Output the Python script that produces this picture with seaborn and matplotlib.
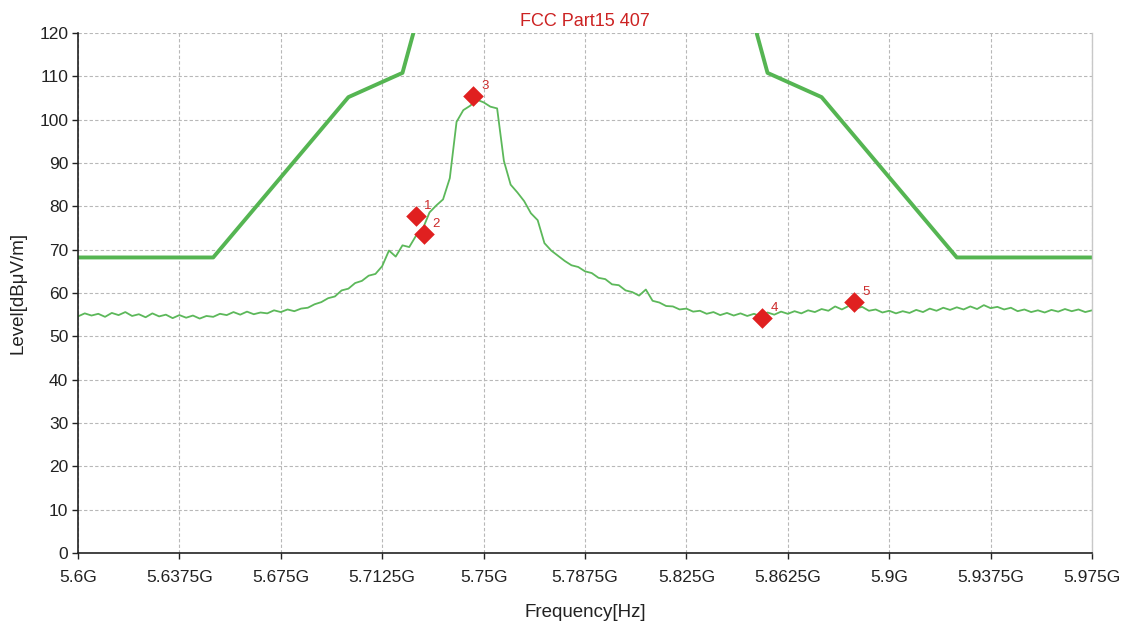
import numpy as np
import pandas as pd
import matplotlib
matplotlib.use("Agg")
import matplotlib.pyplot as plt
from matplotlib.ticker import FixedLocator, FuncFormatter
import seaborn as sns

# Measured emission sweep, 5.6 GHz to 5.975 GHz, 2.5 MHz steps (dBuV/m)
sweep_start = 5.6
sweep_stop = 5.975
level = [
    54.6, 55.3, 54.8, 55.2, 54.5, 55.4, 54.9, 55.6, 54.7, 55.1,
    54.4, 55.3, 54.6, 55.0, 54.2, 54.9, 54.3, 54.8, 54.1, 54.7,
    54.5, 55.2, 54.9, 55.6, 55.0, 55.7, 55.1, 55.5, 55.3, 56.0,
    55.6, 56.2, 55.8, 56.4, 56.6, 57.4, 57.9, 58.8, 59.2, 60.6,
    61.0, 62.3, 62.8, 64.0, 64.4, 66.2, 69.8, 68.4, 71.0, 70.6,
    73.2, 74.8, 78.6, 80.2, 81.6, 86.5, 99.5, 102.2, 103.2, 104.6,
    104.0, 103.0, 102.6, 90.5, 85.0, 83.2, 81.2, 78.4, 76.8, 71.5,
    69.8, 68.6, 67.4, 66.4, 66.0, 65.0, 64.6, 63.5, 63.2, 62.0,
    61.8, 60.6, 60.2, 59.4, 60.8, 58.2, 57.8, 57.0, 56.9, 56.2,
    56.4, 55.7, 55.9, 55.2, 55.6, 54.9, 55.4, 54.8, 55.3, 54.7,
    55.2, 54.6, 55.5, 55.0, 55.7, 55.2, 55.8, 55.3, 56.0, 55.6,
    56.3, 55.9, 56.9, 56.2, 57.0, 56.4, 56.8, 55.9, 56.2, 55.5,
    55.9, 55.3, 55.8, 55.4, 56.1, 55.6, 56.4, 55.9, 56.6, 56.1,
    56.7, 56.2, 56.9, 56.3, 57.2, 56.5, 56.8, 56.2, 56.6, 55.8,
    56.2, 55.6, 56.0, 55.5, 56.1, 55.7, 56.3, 55.8, 56.2, 55.6,
    56.0,
]

# FCC Part 15.407 limit mask (GHz, dBuV/m)
limit_freq = [5.6, 5.65, 5.7, 5.72, 5.725, 5.85, 5.855, 5.875, 5.925, 5.975]
limit_level = [68.2, 68.2, 105.2, 110.8, 122.2, 122.2, 110.8, 105.2, 68.2, 68.2]

# Marker readings
marker_id = ["1", "2", "3", "4", "5"]
marker_freq = [5.725, 5.728, 5.746, 5.853, 5.887]
marker_level = [77.8, 73.6, 105.5, 54.2, 57.9]

x_ticks = [5.6, 5.6375, 5.675, 5.7125, 5.75, 5.7875, 5.825, 5.8625, 5.9, 5.9375, 5.975]
y_ticks = list(range(0, 121, 10))

sns.set_theme(style="white")
plt.rcParams["font.family"] = ["Liberation Sans Narrow", "Liberation Sans", "DejaVu Sans"]

sweep = pd.DataFrame({
    "freq": np.linspace(sweep_start, sweep_stop, len(level)),
    "level": level,
})
mask = pd.DataFrame({"freq": limit_freq, "level": limit_level})
markers = pd.DataFrame({"id": marker_id, "freq": marker_freq, "level": marker_level})

fig = plt.figure(figsize=(11.26, 6.30), dpi=100)
ax = fig.add_axes([78 / 1126, 77 / 630, 1014 / 1126, 520 / 630])

green = "#5cb85a"
red = "#e02020"

sns.lineplot(data=mask, x="freq", y="level", ax=ax, color="#55b552",
             linewidth=2.8, sort=False, estimator=None)
sns.lineplot(data=sweep, x="freq", y="level", ax=ax, color=green,
             linewidth=1.3, sort=False, estimator=None)
sns.scatterplot(data=markers, x="freq", y="level", ax=ax, marker="D",
                s=110, color=red, edgecolor=red, linewidth=0, zorder=5)
for _, r in markers.iterrows():
    ax.annotate(r["id"], (r["freq"], r["level"]), xytext=(6, 5),
                textcoords="offset points", color="#cc2a2a", fontsize=9.5)

ax.set_xlim(sweep_start, sweep_stop)
ax.set_ylim(0, 120)
ax.xaxis.set_major_locator(FixedLocator(x_ticks))
ax.yaxis.set_major_locator(FixedLocator(y_ticks))
ax.xaxis.set_major_formatter(FuncFormatter(lambda v, p: f"{v:.4f}".rstrip("0").rstrip(".") + "G"))
ax.yaxis.set_major_formatter(FuncFormatter(lambda v, p: f"{v:.0f}"))

ax.grid(True, color="#b8b8b8", linestyle=(0, (3, 2)), linewidth=0.8)
ax.set_axisbelow(True)
for side in ("left", "bottom"):
    ax.spines[side].set_color("#222222")
    ax.spines[side].set_linewidth(1.2)
ax.spines["top"].set_visible(False)
ax.spines["right"].set_color("#c8c8c8")
ax.spines["right"].set_linewidth(1.0)

ax.tick_params(axis="both", which="major", direction="out", length=4, width=1,
               color="#222222", labelsize=12.5, labelcolor="#222222",
               left=True, bottom=True)
ax.tick_params(axis="x", pad=8)
ax.tick_params(axis="y", pad=3)

ax.set_xlabel("Frequency[Hz]", fontsize=13.5, color="#222222", labelpad=14)
ax.set_ylabel("Level[dBμV/m]", fontsize=13.5, color="#222222", labelpad=9,
              family=["Liberation Sans", "DejaVu Sans"])
ax.set_title("FCC Part15 407", fontsize=13, color="#cc2222", pad=5)

fig.savefig("out.png", dpi=100, facecolor="white")
